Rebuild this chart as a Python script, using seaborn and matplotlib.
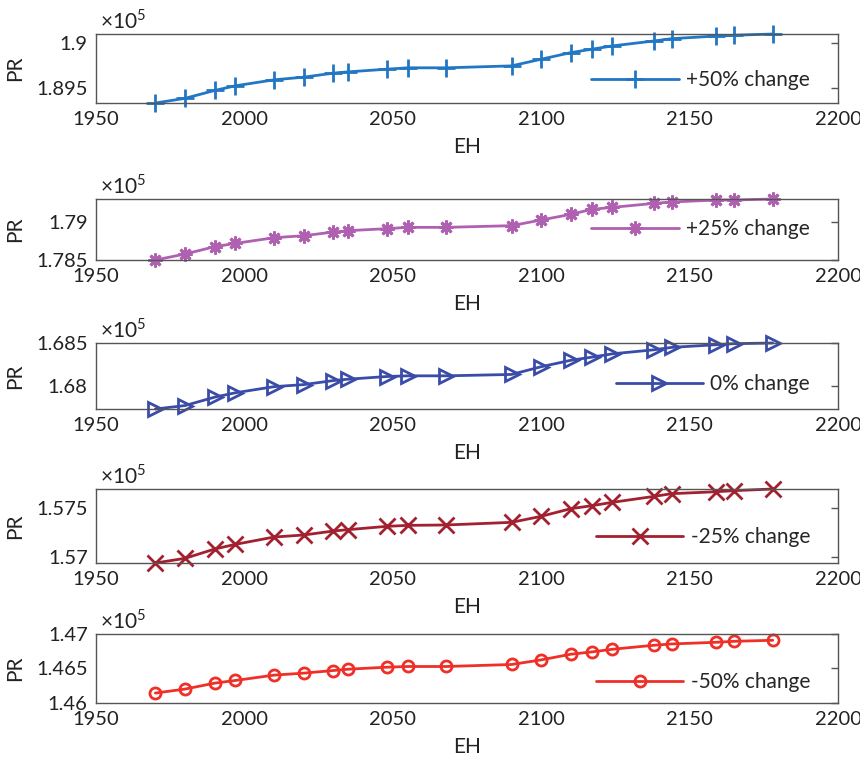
import numpy as np
import matplotlib
matplotlib.use("Agg")
import matplotlib.pyplot as plt
from matplotlib.ticker import MultipleLocator, FuncFormatter
import seaborn as sns

eh = [1970, 1980, 1990, 1997, 2010, 2020, 2030, 2035, 2048, 2055, 2068,
      2090, 2100, 2110, 2117, 2124, 2138, 2144, 2159, 2165, 2178]

pr_p50 = [189341, 189392, 189478, 189529, 189594, 189623, 189667, 189681, 189710, 189725, 189725,
          189746, 189819, 189891, 189928, 189964, 190018, 190043, 190072, 190080, 190094]
pr_p25 = [178500, 178578, 178674, 178717, 178791, 178817, 178865, 178883, 178909, 178926, 178926,
          178948, 179022, 179096, 179161, 179187, 179239, 179257, 179283, 179283, 179296]
pr_0 = [167732, 167772, 167870, 167921, 167992, 168016, 168063, 168079, 168110, 168118, 168118,
        168134, 168224, 168299, 168335, 168374, 168421, 168449, 168480, 168492, 168500]
pr_m25 = [156938, 156986, 157082, 157130, 157205, 157226, 157267, 157281, 157315, 157325, 157329,
          157356, 157418, 157497, 157527, 157562, 157623, 157651, 157671, 157682, 157699]
pr_m50 = [146144, 146202, 146288, 146327, 146404, 146433, 146471, 146490, 146519, 146529, 146529,
          146558, 146625, 146707, 146740, 146779, 146837, 146856, 146880, 146894, 146909]

labels = ['+50% change', '+25% change', '0% change', '-25% change', '-50% change']
series = [pr_p50, pr_p25, pr_0, pr_m25, pr_m50]
colors = ['#2277c4', '#b060b0', '#3a4ca8', '#a2202f', '#ee3028']
markers = ['+', (8, 2, 0), '>', 'x', 'o']
msizes = [13, 10, 10, 11, 8]

sns.set_style("white")
plt.rcParams['font.family'] = ['Lato', 'DejaVu Sans']
plt.rcParams['mathtext.fontset'] = 'custom'
plt.rcParams['mathtext.rm'] = 'Lato'

fig = plt.figure(figsize=(8.6, 7.65), dpi=100)
W, H = 860, 765
boxes = [(34, 103), (199, 260), (343, 409), (489, 563), (634, 703)]
leg_y = [0.33, 0.51, 0.38, 0.35, 0.30]
ylims = [None, None, None, None, (146000, 147000)]

for i in range(5):
    top, bot = boxes[i]
    ax = fig.add_axes([96 / W, 1 - bot / H, 742 / W, (bot - top) / H])
    hollow = markers[i] in ('>', 'o')
    sns.lineplot(x=eh, y=series[i], ax=ax, color=colors[i], linewidth=2,
                 marker=markers[i], markersize=msizes[i],
                 markeredgewidth=2,
                 markerfacecolor='none' if hollow else colors[i],
                 markeredgecolor=colors[i], label=labels[i], clip_on=False)
    ax.set_xlim(1950, 2200)
    if ylims[i] is None:
        ax.set_ylim(min(series[i]), max(series[i]))
    else:
        ax.set_ylim(*ylims[i])
    ax.xaxis.set_major_locator(MultipleLocator(50))
    ax.yaxis.set_major_locator(MultipleLocator(500))
    ax.yaxis.set_major_formatter(FuncFormatter(lambda v, p: f'{v / 1e5:g}'))
    ax.tick_params(direction='in', length=5, width=1, color='#555555',
                   labelsize=14.5, labelcolor='#222222', right=True, top=False, pad=6)
    for s in ax.spines.values():
        s.set_color('#555555')
        s.set_linewidth(1)
    ax.set_xlabel('EH', fontsize=15, color='#222222', labelpad=6)
    ax.set_ylabel('PR', fontsize=15, color='#222222', labelpad=8)
    ax.text(0.005, 1.02, '×10$^{5}$', transform=ax.transAxes, fontsize=15,
            color='#222222', va='bottom', ha='left')
    ax.legend(loc='center right', bbox_to_anchor=(0.965, leg_y[i]), fontsize=15,
              frameon=True, facecolor='white', edgecolor='none', framealpha=1,
              handlelength=4.2, handletextpad=0.35, borderpad=0.1, borderaxespad=0)
    ax.grid(False)

fig.savefig('out.png', dpi=100)
